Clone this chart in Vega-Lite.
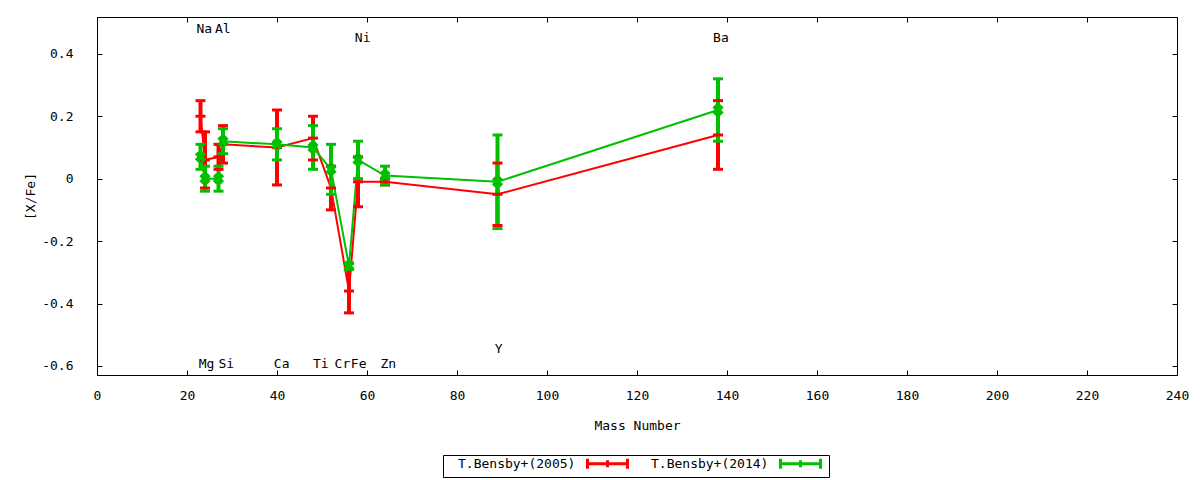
{
  "$schema": "https://vega.github.io/schema/vega-lite/v6.json",
  "width": 1080,
  "height": 358,
  "autosize": {"type": "none"},
  "padding": {"left": 97, "top": 17, "right": 23, "bottom": 105},
  "background": "white",
  "config": {
    "view": {"stroke": "black", "strokeWidth": 1},
    "font": "DejaVu Sans Mono",
    "axis": {
      "grid": false,
      "labelFont": "DejaVu Sans Mono",
      "labelFontSize": 13,
      "labelColor": "black",
      "titleFont": "DejaVu Sans Mono",
      "titleFontSize": 13,
      "titleFontWeight": "normal",
      "titleColor": "black",
      "domainColor": "black",
      "tickColor": "black",
      "tickSize": -5,
      "tickWidth": 1,
      "labelFlush": false
    }
  },
  "datasets": {
    "pts": [
      {"el": "Na", "A": 23, "set": "T.Bensby+(2005)", "v": 0.20, "lo": 0.15, "hi": 0.25},
      {"el": "Mg", "A": 24, "set": "T.Bensby+(2005)", "v": 0.06, "lo": -0.03, "hi": 0.15},
      {"el": "Al", "A": 27, "set": "T.Bensby+(2005)", "v": 0.07, "lo": 0.03, "hi": 0.11},
      {"el": "Si", "A": 28, "set": "T.Bensby+(2005)", "v": 0.11, "lo": 0.05, "hi": 0.17},
      {"el": "Ca", "A": 40, "set": "T.Bensby+(2005)", "v": 0.10, "lo": -0.02, "hi": 0.22},
      {"el": "Ti", "A": 48, "set": "T.Bensby+(2005)", "v": 0.13, "lo": 0.06, "hi": 0.20},
      {"el": "Cr", "A": 52, "set": "T.Bensby+(2005)", "v": -0.03, "lo": -0.10, "hi": 0.04},
      {"el": "Fe", "A": 56, "set": "T.Bensby+(2005)", "v": -0.36, "lo": -0.43, "hi": -0.29},
      {"el": "Ni", "A": 58, "set": "T.Bensby+(2005)", "v": -0.01, "lo": -0.09, "hi": 0.07},
      {"el": "Zn", "A": 64, "set": "T.Bensby+(2005)", "v": -0.01, "lo": -0.02, "hi": 0.00},
      {"el": "Y", "A": 89, "set": "T.Bensby+(2005)", "v": -0.05, "lo": -0.15, "hi": 0.05},
      {"el": "Ba", "A": 138, "set": "T.Bensby+(2005)", "v": 0.14, "lo": 0.03, "hi": 0.25},
      {"el": "Na", "A": 23, "set": "T.Bensby+(2014)", "v": 0.07, "lo": 0.03, "hi": 0.11},
      {"el": "Mg", "A": 24, "set": "T.Bensby+(2014)", "v": 0.00, "lo": -0.04, "hi": 0.04},
      {"el": "Al", "A": 27, "set": "T.Bensby+(2014)", "v": 0.00, "lo": -0.04, "hi": 0.04},
      {"el": "Si", "A": 28, "set": "T.Bensby+(2014)", "v": 0.12, "lo": 0.08, "hi": 0.16},
      {"el": "Ca", "A": 40, "set": "T.Bensby+(2014)", "v": 0.11, "lo": 0.06, "hi": 0.16},
      {"el": "Ti", "A": 48, "set": "T.Bensby+(2014)", "v": 0.10, "lo": 0.03, "hi": 0.17},
      {"el": "Cr", "A": 52, "set": "T.Bensby+(2014)", "v": 0.03, "lo": -0.05, "hi": 0.11},
      {"el": "Fe", "A": 56, "set": "T.Bensby+(2014)", "v": -0.28, "lo": -0.29, "hi": -0.27},
      {"el": "Ni", "A": 58, "set": "T.Bensby+(2014)", "v": 0.06, "lo": 0.00, "hi": 0.12},
      {"el": "Zn", "A": 64, "set": "T.Bensby+(2014)", "v": 0.01, "lo": -0.02, "hi": 0.04},
      {"el": "Y", "A": 89, "set": "T.Bensby+(2014)", "v": -0.01, "lo": -0.16, "hi": 0.14},
      {"el": "Ba", "A": 138, "set": "T.Bensby+(2014)", "v": 0.22, "lo": 0.12, "hi": 0.32}
    ],
    "labs": [
      {"el": "Na", "lx": 22.1, "ly": 0.467},
      {"el": "Al", "lx": 26.2, "ly": 0.467},
      {"el": "Ni", "lx": 57.3, "ly": 0.4385},
      {"el": "Ba", "lx": 136.9, "ly": 0.4385},
      {"el": "Mg", "lx": 22.6, "ly": -0.606},
      {"el": "Si", "lx": 27.0, "ly": -0.606},
      {"el": "Ca", "lx": 39.3, "ly": -0.606},
      {"el": "Ti", "lx": 48.0, "ly": -0.606},
      {"el": "Cr", "lx": 52.8, "ly": -0.606},
      {"el": "Fe", "lx": 56.4, "ly": -0.606},
      {"el": "Zn", "lx": 63.0, "ly": -0.606},
      {"el": "Y", "lx": 88.4, "ly": -0.56}
    ]
  },
  "layer": [
    {
      "data": {"name": "pts"},
      "mark": {"type": "line", "strokeWidth": 2},
      "encoding": {
        "x": {
          "field": "A", "type": "quantitative",
          "scale": {"domain": [0, 240], "nice": false, "zero": false},
          "axis": {"title": "Mass Number", "values": [0, 20, 40, 60, 80, 100, 120, 140, 160, 180, 200, 220, 240], "format": "d", "labelPadding": 19, "titlePadding": 17}
        },
        "y": {
          "field": "v", "type": "quantitative",
          "scale": {"domain": [-0.629, 0.518], "nice": false, "zero": false},
          "axis": {"title": "[X/Fe]", "values": [-0.6, -0.4, -0.2, 0, 0.2, 0.4], "labelExpr": "datum.value == 0 ? '0' : replace(format(datum.value, '.1f'), '\u2212', '-')", "labelPadding": 29, "titlePadding": 4}
        },
        "color": {
          "field": "set", "type": "nominal",
          "scale": {"domain": ["T.Bensby+(2005)", "T.Bensby+(2014)"], "range": ["#ff0000", "#00c000"]},
          "legend": {
            "orient": "none", "legendX": 346, "legendY": 438, "direction": "horizontal", "title": null,
            "strokeColor": "black", "fillColor": "white", "padding": 2, "cornerRadius": 0,
            "symbolType": "M-4,-1V1M-4,0H4M4,-1V1M0,-0.7V0.7", "symbolSize": 100, "symbolStrokeWidth": 3,
            "symbolOffset": 156,
            "labelFont": "DejaVu Sans Mono", "labelFontSize": 13, "labelColor": "black",
            "labelOffset": -156, "columnPadding": 4
          }
        }
      }
    },
    {
      "data": {"name": "pts"},
      "mark": {"type": "rule", "strokeWidth": 4},
      "encoding": {
        "x": {"field": "A", "type": "quantitative", "axis": null},
        "y": {"field": "lo", "type": "quantitative", "axis": null},
        "y2": {"field": "hi"},
        "color": {"field": "set", "type": "nominal"}
      }
    },
    {
      "data": {"name": "pts"},
      "transform": [{"fold": ["lo", "hi"], "as": ["end", "yv"]}],
      "mark": {"type": "tick", "orient": "horizontal", "size": 10, "thickness": 3, "opacity": 1},
      "encoding": {
        "x": {"field": "A", "type": "quantitative", "axis": null},
        "y": {"field": "yv", "type": "quantitative", "axis": null},
        "color": {"field": "set", "type": "nominal"}
      }
    },
    {
      "data": {"name": "pts"},
      "transform": [{"filter": "datum.set == 'T.Bensby+(2005)'"}],
      "mark": {"type": "tick", "orient": "horizontal", "size": 10, "thickness": 3, "opacity": 1},
      "encoding": {
        "x": {"field": "A", "type": "quantitative", "axis": null},
        "y": {"field": "v", "type": "quantitative", "axis": null},
        "color": {"field": "set", "type": "nominal"}
      }
    },
    {
      "data": {"name": "pts"},
      "transform": [{"filter": "datum.set == 'T.Bensby+(2014)'"}],
      "mark": {"type": "point", "shape": "cross", "angle": 45, "filled": true, "size": 130, "opacity": 1},
      "encoding": {
        "x": {"field": "A", "type": "quantitative", "axis": null},
        "y": {"field": "v", "type": "quantitative", "axis": null},
        "color": {"field": "set", "type": "nominal"}
      }
    },
    {
      "data": {"name": "labs"},
      "mark": {"type": "text", "align": "left", "baseline": "alphabetic", "font": "DejaVu Sans Mono", "fontSize": 13, "color": "black"},
      "encoding": {
        "x": {"field": "lx", "type": "quantitative", "axis": {"orient": "top", "labels": false, "title": null, "domain": false, "values": [0, 20, 40, 60, 80, 100, 120, 140, 160, 180, 200, 220, 240]}},
        "y": {"field": "ly", "type": "quantitative", "axis": {"orient": "right", "labels": false, "title": null, "domain": false, "values": [-0.6, -0.4, -0.2, 0, 0.2, 0.4]}},
        "text": {"field": "el"}
      }
    }
  ],
  "resolve": {"axis": {"x": "independent", "y": "independent"}}
}
